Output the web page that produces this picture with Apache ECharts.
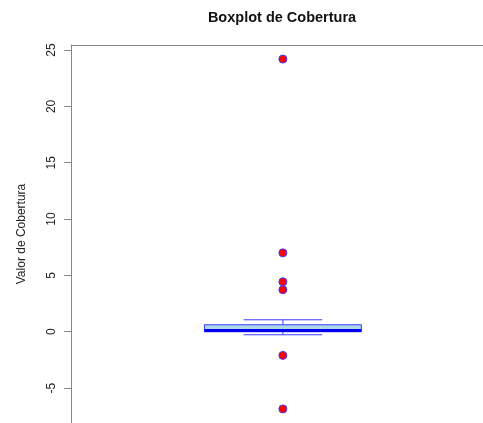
<!DOCTYPE html>
<html>
<head>
<meta charset="utf-8">
<script src="https://cdn.jsdelivr.net/npm/echarts@6/dist/echarts.min.js"></script>
<style>
  html, body { margin: 0; padding: 0; background: #fff; }
  #main { width: 483px; height: 423px; }
</style>
</head>
<body>
<div id="main"></div>
<script>
    // box stats: lower whisker, Q1, median, Q3, upper whisker
    var boxStats = [-0.27, 0.0, 0.12, 0.62, 1.06];
    var outliers = [24.2, 7.0, 4.43, 3.73, -2.1, -6.85];
    var yTicks = [-5, 0, 5, 10, 15, 20, 25];

    var chart = echarts.init(document.getElementById('main'));
    var fontFamily = 'Liberation Sans, Arial, sans-serif';

    function renderBox(params, api) {
        var x = api.value(0);
        var lo = api.coord([x, api.value(1)]);
        var q1 = api.coord([x, api.value(2)]);
        var med = api.coord([x, api.value(3)]);
        var q3 = api.coord([x, api.value(4)]);
        var hi = api.coord([x, api.value(5)]);
        var hw = api.size([0.8, 0])[0] / 2;
        var cw = hw / 2;
        var cx = lo[0];
        var lineStyle = { stroke: '#3b3bff', lineWidth: 1 };
        return {
            type: 'group',
            children: [
                { type: 'line', shape: { x1: cx, y1: q3[1], x2: cx, y2: hi[1] }, style: lineStyle },
                { type: 'line', shape: { x1: cx, y1: q1[1], x2: cx, y2: lo[1] }, style: lineStyle },
                { type: 'line', shape: { x1: cx - cw, y1: hi[1], x2: cx + cw, y2: hi[1] }, style: lineStyle },
                { type: 'line', shape: { x1: cx - cw, y1: lo[1], x2: cx + cw, y2: lo[1] }, style: lineStyle },
                { type: 'rect', shape: { x: cx - hw, y: q3[1], width: hw * 2, height: q1[1] - q3[1] },
                  style: { fill: '#add8e6', stroke: '#3b3bff', lineWidth: 1 } },
                { type: 'line', shape: { x1: cx - hw, y1: med[1], x2: cx + hw, y2: med[1] },
                  style: { stroke: '#0000ee', lineWidth: 3 } }
            ]
        };
    }

    var option = {
        backgroundColor: '#ffffff',
        animation: false,
        title: {
            text: 'Boxplot de Cobertura',
            left: 277,
            top: 5,
            textAlign: 'center',
            textStyle: { fontFamily: fontFamily, fontSize: 14.5, fontWeight: 'bold', color: '#111' }
        },
        grid: { left: 71, right: 0, top: 45, bottom: 0 },
        xAxis: {
            type: 'value',
            min: -0.08,
            max: 2.02,
            position: 'top',
            axisLine: { show: true, onZero: false, lineStyle: { color: '#888', width: 1 } },
            axisTick: { show: false },
            axisLabel: { show: false },
            splitLine: { show: false }
        },
        yAxis: {
            type: 'value',
            min: -8.1,
            max: 25.45,
            name: 'Valor de Cobertura',
            nameLocation: 'middle',
            nameGap: 43,
            nameTextStyle: { fontFamily: fontFamily, fontSize: 12, color: '#222' },
            axisLine: { show: true, onZero: false, lineStyle: { color: '#888', width: 1 } },
            axisTick: { show: true, length: 7, customValues: yTicks, lineStyle: { color: '#888' } },
            axisLabel: { rotate: 90, margin: 13, customValues: yTicks,
                         fontFamily: fontFamily, fontSize: 12, color: '#222' },
            splitLine: { show: false }
        },
        series: [
            {
                type: 'custom',
                renderItem: renderBox,
                data: [[1].concat(boxStats)],
                silent: true
            },
            {
                type: 'scatter',
                symbol: 'circle',
                symbolSize: 8,
                itemStyle: { color: '#ff0000', borderColor: '#3b3bff', borderWidth: 1, opacity: 1 },
                data: outliers.map(function (v) { return [1, v]; }),
                silent: true
            }
        ]
    };

    chart.setOption(option);
</script>
</body>
</html>
